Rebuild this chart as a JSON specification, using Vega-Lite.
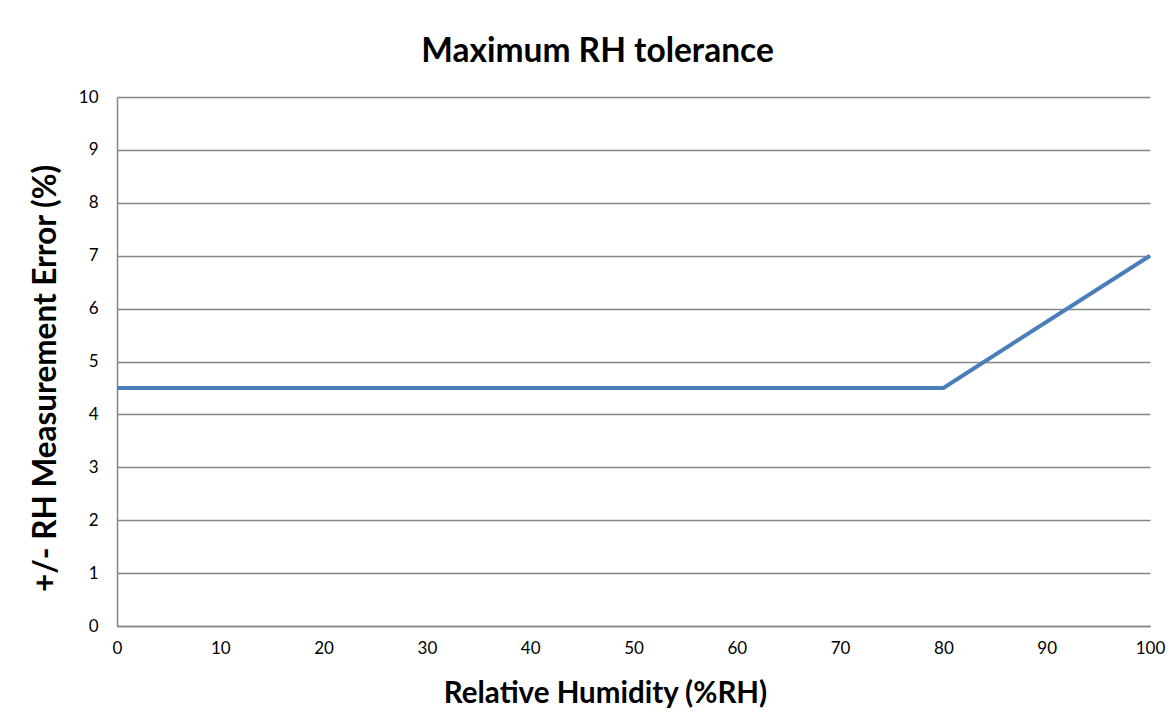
{
  "$schema": "https://vega.github.io/schema/vega-lite/v6.json",
  "autosize": {"type": "none"},
  "padding": {"left": 117, "top": 97, "right": 22, "bottom": 102},
  "width": 1033,
  "height": 529,
  "background": "white",
  "title": {
    "text": "Maximum RH tolerance",
    "font": "Lato",
    "fontSize": 33.5,
    "fontWeight": "bold",
    "color": "#000000",
    "anchor": "middle",
    "dx": -36,
    "baseline": "alphabetic",
    "offset": -7
  },
  "data": {
    "values": [
      {"rh": 0, "err": 4.5},
      {"rh": 80, "err": 4.5},
      {"rh": 100, "err": 7}
    ]
  },
  "mark": {"type": "line", "color": "#4A7EBB", "strokeWidth": 4},
  "encoding": {
    "x": {
      "field": "rh",
      "type": "quantitative",
      "scale": {"domain": [0, 100], "nice": false, "zero": false},
      "axis": {
        "title": "Relative Humidity (%RH)",
        "values": [0, 10, 20, 30, 40, 50, 60, 70, 80, 90, 100],
        "grid": false,
        "ticks": false,
        "domainColor": "#868686",
        "domainWidth": 1.5,
        "labelFont": "Lato",
        "labelFontSize": 17,
        "labelColor": "#000000",
        "labelPadding": 14,
        "labelFlush": false,
        "titleFont": "Lato",
        "titleFontSize": 29.5,
        "titleFontWeight": "bold",
        "titleColor": "#000000",
        "titlePadding": 23,
        "titleX": 488
      }
    },
    "y": {
      "field": "err",
      "type": "quantitative",
      "scale": {"domain": [0, 10], "nice": false},
      "axis": {
        "title": "+/- RH Measurement Error (%)",
        "values": [0, 1, 2, 3, 4, 5, 6, 7, 8, 9, 10],
        "grid": true,
        "gridColor": "#868686",
        "gridWidth": 1.3,
        "ticks": false,
        "domainColor": "#868686",
        "domainWidth": 1.5,
        "labelFont": "Lato",
        "labelFontSize": 17,
        "labelColor": "#000000",
        "labelPadding": 19,
        "labelFlush": false,
        "titleFont": "Lato",
        "titleFontSize": 31.5,
        "titleFontWeight": "bold",
        "titleColor": "#000000",
        "titlePadding": 16,
        "titleY": 281
      }
    }
  },
  "config": {"view": {"stroke": null}}
}
